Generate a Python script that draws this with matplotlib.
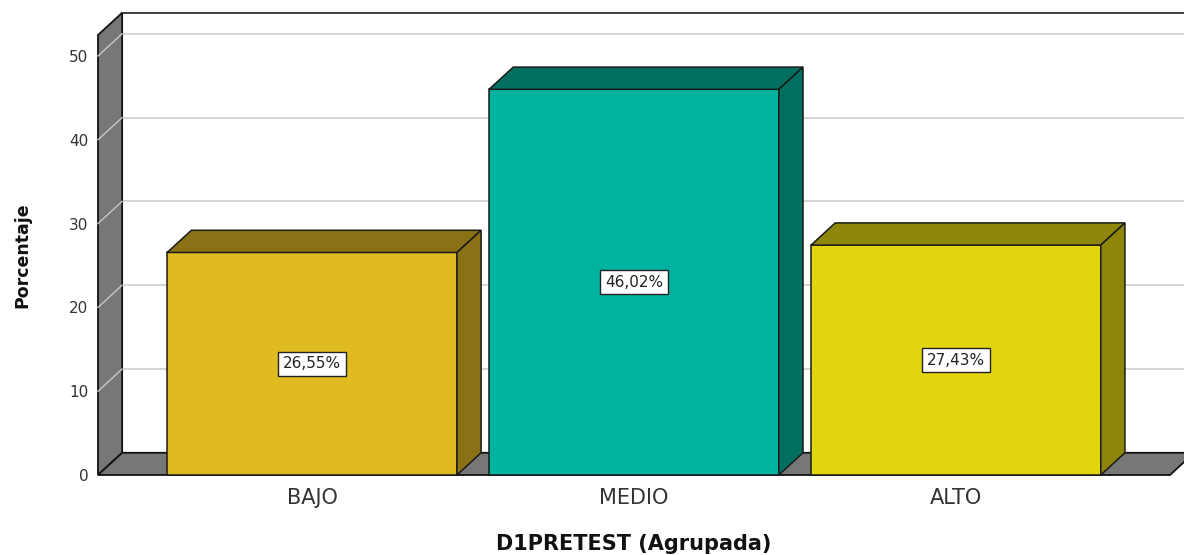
import numpy as np
import matplotlib
matplotlib.use('Agg')
import matplotlib.pyplot as plt
from matplotlib.patches import Polygon

#data
cats = ['BAJO', 'MEDIO', 'ALTO']
vals = [26.55, 46.02, 27.43]
val_labels = ['26,55%', '46,02%', '27,43%']
front_cols = ['#DFBA20', '#00B3A0', '#E2D50F']
dark_cols = ['#8A7115', '#006F60', '#8E860A']

#3d look
w = 0.9
dx = 0.075
dy = 2.65
x0, x1 = -0.665, 2.665
ymax = 52.5
wall = '#777777'

fig = plt.figure(figsize=(11.84, 5.55), dpi=100)
ax = fig.add_axes([98/1184, 80/555, 1072/1184, 440/555])
ax.set_xlim(x0, x1)
ax.set_ylim(0, ymax)
for s in ax.spines.values():
    s.set_visible(False)
ax.patch.set_visible(False)

#back wall
ax.add_patch(Polygon([(x0+dx, dy), (x1+dx, dy), (x1+dx, ymax+dy), (x0+dx, ymax+dy)],
                     closed=True, fc='white', ec='#222222', lw=1.2, zorder=1, clip_on=False))
#grid on back wall and side wall
for g in range(10, 51, 10):
    ax.plot([x0+dx, x1+dx], [g+dy, g+dy], color='#cfcfcf', lw=1.2, zorder=2, clip_on=False)
#left wall
ax.add_patch(Polygon([(x0, 0), (x0+dx, dy), (x0+dx, ymax+dy), (x0, ymax)],
                     closed=True, fc=wall, ec='#111111', lw=1.3, zorder=3, clip_on=False))
for g in range(10, 51, 10):
    ax.plot([x0, x0+dx], [g, g+dy], color='#c8c8c8', lw=1.0, zorder=3.5, clip_on=False)
#floor
ax.add_patch(Polygon([(x0, 0), (x1, 0), (x1+dx, dy), (x0+dx, dy)],
                     closed=True, fc=wall, ec='#111111', lw=1.3, zorder=3, clip_on=False))

#bars
for i in range(len(cats)):
    v = vals[i]
    l = i - w/2
    r = i + w/2
    ax.add_patch(Polygon([(l, 0), (r, 0), (r, v), (l, v)], closed=True,
                         fc=front_cols[i], ec='#1a1a1a', lw=1.1, zorder=5, clip_on=False))
    ax.add_patch(Polygon([(l, v), (r, v), (r+dx, v+dy), (l+dx, v+dy)], closed=True,
                         fc=dark_cols[i], ec='#1a1a1a', lw=1.1, zorder=5, clip_on=False))
    ax.add_patch(Polygon([(r, 0), (r+dx, dy), (r+dx, v+dy), (r, v)], closed=True,
                         fc=dark_cols[i], ec='#1a1a1a', lw=1.1, zorder=5, clip_on=False))
    ax.text(i, v/2, val_labels[i], ha='center', va='center', fontsize=11, color='#222222',
            zorder=10, bbox=dict(boxstyle='square,pad=0.3', fc='white', ec='#222222', lw=1))

ax.set_xticks(range(len(cats)))
ax.set_xticklabels(cats, fontsize=15, color='#333333')
ax.set_yticks(range(0, 51, 10))
ax.set_yticklabels([str(t) for t in range(0, 51, 10)], fontsize=11, color='#333333')
ax.tick_params(axis='x', length=0, pad=9)
ax.tick_params(axis='y', length=0, pad=7)
ax.set_xlabel('D1PRETEST (Agrupada)', fontsize=15, fontweight='bold', color='#111111', labelpad=19)
ax.set_ylabel('Porcentaje', fontsize=12.5, fontweight='bold', color='#111111', labelpad=27)

plt.savefig('out.png', dpi=100)
